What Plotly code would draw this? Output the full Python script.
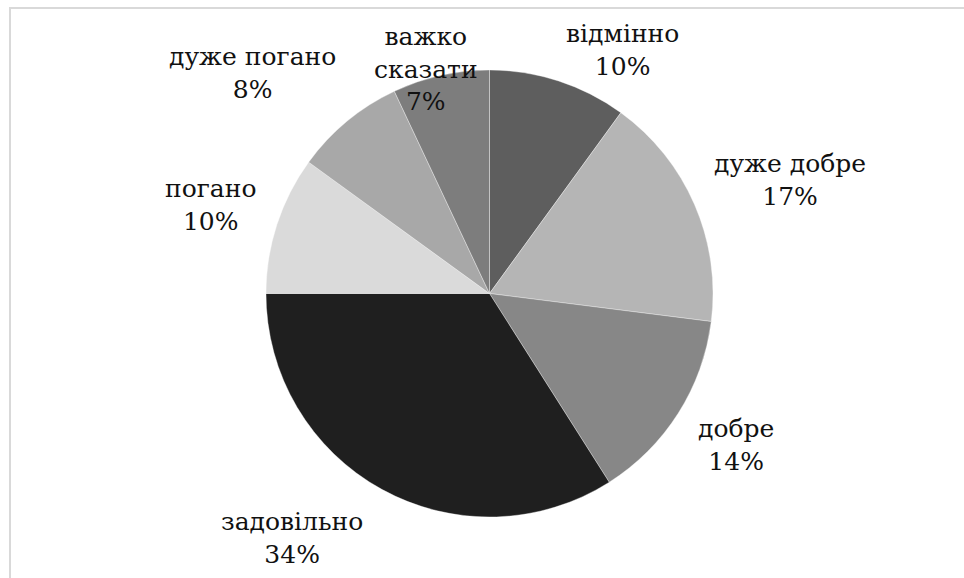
import plotly.graph_objects as go

categories = ["відмінно", "дуже добре", "добре", "задовільно", "погано", "дуже погано", "важко сказати"]
label_text = ["відмінно", "дуже добре", "добре", "задовільно", "погано", "дуже погано", "важко<br>сказати"]
values = [10, 17, 14, 34, 10, 8, 7]
colors = ["#5e5e5e", "#b5b5b5", "#878787", "#1f1f1f", "#dadada", "#a8a8a8", "#7d7d7d"]
# label block centres (pixels from top-left)
label_pos = [(622, 50), (790, 180), (736, 445), (292, 538), (210, 205), (252, 73), (426, 69)]

W, H = 964, 578
fig = go.Figure()
fig.add_trace(go.Pie(
    labels=categories, values=values, sort=False, direction="clockwise", rotation=0,
    marker=dict(colors=colors, line=dict(color="rgba(255,255,255,0.35)", width=1)),
    textinfo="none", hoverinfo="label+percent", showlegend=False,
    domain=dict(x=[266 / W, 713 / W], y=[1 - 517 / H, 1 - 70 / H]),
))

total = sum(values)
for txt, v, (px, py) in zip(label_text, values, label_pos):
    fig.add_annotation(
        x=px / W, y=1 - py / H, xref="paper", yref="paper",
        xanchor="center", yanchor="middle", showarrow=False,
        text=f"{txt}<br>{round(100 * v / total)}%",
        font=dict(family="DejaVu Serif", size=25, color="#111111"),
        align="center",
    )

fig.add_shape(type="rect", xref="paper", yref="paper",
              x0=10 / W, x1=1.05, y0=-0.05, y1=1 - 8 / H,
              line=dict(color="#d9d9d9", width=2))

fig.update_layout(width=W, height=H, margin=dict(l=0, r=0, t=0, b=0),
                  paper_bgcolor="white", plot_bgcolor="white")
fig.write_html("out.html")
